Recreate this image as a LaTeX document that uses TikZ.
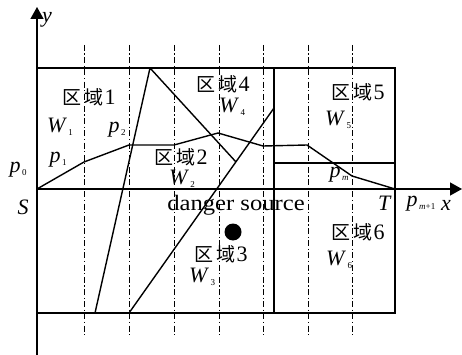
\documentclass[tikz,border=0pt]{standalone}
\usepackage{fontspec}
\setmainfont{Liberation Serif}
\newfontfamily\cjk{Noto Sans CJK SC}
\usetikzlibrary{arrows.meta}
\newcommand\zonelbl[1]{{\cjk\fontsize{19}{19}\selectfont 区\hspace{3pt}域}\hspace{1pt}#1}
\newcommand\mvar[2]{\textit{#1}\raisebox{-0.3ex}{\fontsize{9}{9}\selectfont\,#2}}
\begin{document}
\begin{tikzpicture}[x=1pt,y=-1pt,
  thickline/.style={line width=1.4pt},
  gridline/.style={line width=0.7pt, dash pattern=on 6pt off 2.5pt on 1.2pt off 2.5pt},
  lbl/.style={inner sep=0pt, font=\fontsize{22}{22}\selectfont},
  axisarrow/.style={line width=1.4pt, -{Triangle[length=12pt,width=13pt]}},
]
\useasboundingbox (0,0) rectangle (462,355);
% grid lines
\foreach \gx/\gn in {84/a,129/b,174/c,219/d,263/e,308/f,352/g}{
  \coordinate (gt\gn) at (\gx,45);
  \coordinate (gb\gn) at (\gx,335);
  \draw[gridline] (gt\gn) -- (gb\gn);
}
% frame
\coordinate (R1) at (37,68);
\coordinate (R2) at (395,313);
\draw[thickline] (R1) rectangle (R2);
\coordinate (Mt) at (274,68);
\coordinate (Mb) at (274,313);
\draw[thickline] (Mt) -- (Mb);
\coordinate (Hl) at (274,163);
\coordinate (Hr) at (395,163);
\draw[thickline] (Hl) -- (Hr);
% axes
\coordinate (Ob) at (37,355);
\coordinate (Yt) at (37,7);
\coordinate (Xl) at (37,189);
\coordinate (Xr) at (462,189);
\draw[axisarrow] (Ob) -- (Yt);
\draw[axisarrow] (Xl) -- (Xr);
% path
\coordinate (S) at (37,189);
\coordinate (P1) at (84,162);
\coordinate (P2) at (129,145);
\coordinate (P3) at (174,145);
\coordinate (P4) at (218,133);
\coordinate (P5) at (263,146);
\coordinate (P6) at (307,145);
\coordinate (Pm) at (352,176);
\coordinate (T) at (395,189);
\draw[thickline, line join=round] (S) -- (P1) -- (P2) -- (P3) -- (P4) -- (P5) -- (P6) -- (Pm) -- (T);
% danger lines
\coordinate (L1b) at (95,313);
\coordinate (Apex) at (150,68);
\coordinate (Lm) at (236,162);
\coordinate (L2b) at (129,313);
\coordinate (L2t) at (274,108);
\draw[thickline, line join=round] (L1b) -- (Apex) -- (Lm);
\draw[thickline] (L2b) -- (L2t);
% danger source
\node[circle, fill=black, minimum size=17pt, inner sep=0pt] (ds) at (233,232) {};
% labels
\node[lbl] (ylab) at (47,20) {\textit{y}};
\node[lbl] (xlab) at (446,205) {\textit{x}};
\node[lbl] (p0) at (18,170) {\mvar{p}{0}};
\node[lbl] (Slab) at (23,207) {\textit{S}};
\node[lbl] (p1) at (58,160) {\mvar{p}{1}};
\node[lbl] (p2) at (117,130) {\mvar{p}{2}};
\node[lbl] (pm) at (339,175) {\mvar{p}{\textit{m}}};
\node[lbl] (Tlab) at (385,203) {\textit{T}};
\node[lbl] (pm1) at (421,204) {\mvar{p}{\textit{m}+1}};
\node[lbl] (z1) at (89,97) {\zonelbl{1}};
\node[lbl] (z2) at (181,157) {\zonelbl{2}};
\node[lbl] (z3) at (221,254) {\zonelbl{3}};
\node[lbl] (z4) at (223,84) {\zonelbl{4}};
\node[lbl] (z5) at (358,92) {\zonelbl{5}};
\node[lbl] (z6) at (358,232) {\zonelbl{6}};
\node[lbl] (w1) at (60,127) {\mvar{W}{1}};
\node[lbl] (w2) at (182,179) {\mvar{W}{2}};
\node[lbl] (w3) at (202,277) {\mvar{W}{3}};
\node[lbl] (w4) at (232,107) {\mvar{W}{4}};
\node[lbl] (w5) at (338,120) {\mvar{W}{5}};
\node[lbl] (w6) at (339,260) {\mvar{W}{6}};
\node[lbl] (dsl) at (236,205) {\scalebox{1.12}[1]{danger source}};
\end{tikzpicture}
\end{document}
